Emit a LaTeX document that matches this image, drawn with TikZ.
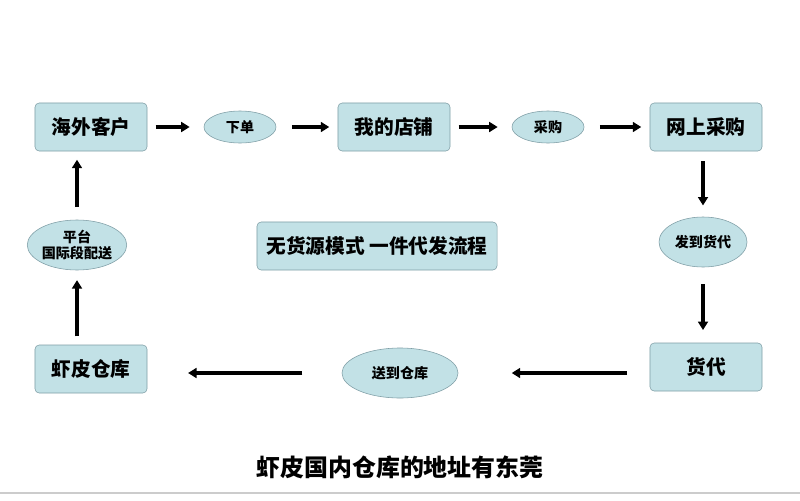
\documentclass[tikz,border=0pt]{standalone}
\usepackage{fontspec}
\setmainfont{Noto Sans CJK SC}
\usetikzlibrary{shapes.geometric,arrows.meta}
\definecolor{boxfill}{HTML}{C2E1E6}
\definecolor{boxline}{HTML}{7F9EA6}
\tikzset{
  stepbox/.style={draw=boxline,fill=boxfill,rounded corners=3pt,minimum width=2.8cm,minimum height=1.2cm,font=\bfseries\fontsize{14}{16}\selectfont},
  oval/.style={draw=boxline,fill=boxfill,ellipse,inner sep=0pt,font=\bfseries\fontsize{10}{12}\selectfont,align=center},
  flow/.style={line width=2.2pt,-{Triangle[length=6pt,width=7pt]}}
}
\begin{document}
\begin{tikzpicture}[x=0.025cm,y=-0.025cm]
  \useasboundingbox[fill=white] (0,0) rectangle (800,500);
  \node[stepbox] (kehu) at (91,127) {海外客户};
  \node[stepbox] (dianpu) at (394,127) {我的店铺};
  \node[stepbox] (caigou) at (706,127) {网上采购};
  \node[stepbox] (huodai) at (706,367) {货代};
  \node[stepbox] (cangku) at (91,369) {虾皮仓库};
  \node[oval,minimum width=1.8cm,minimum height=0.8cm] (xiadan) at (240,127) {下单};
  \node[oval,minimum width=1.8cm,minimum height=0.8cm] (cg) at (548,127) {采购};
  \node[oval,minimum width=2.2cm,minimum height=1.25cm] (fadao) at (703,242) {发到货代};
  \node[oval,minimum width=2.9cm,minimum height=1.25cm] (songdao) at (400,373) {送到仓库};
  \node[oval,minimum width=2.2cm,minimum height=1.25cm] (peisong) at (77,245) {平台\\国际段配送};
  \node[stepbox,minimum width=6cm] (title) at (377,246) {无货源模式\ 一件代发流程};
  \node[font=\bfseries\fontsize{17}{19}\selectfont] (caption) at (400,467) {虾皮国内仓库的地址有东莞};
  \draw[gray!40,line width=1pt] (0,493) -- (800,493);
  % flow
  \draw[flow,shorten <=6pt,shorten >=10pt] (kehu) -- (xiadan);
  \draw[flow,shorten <=11pt,shorten >=6pt] (xiadan) -- (dianpu);
  \draw[flow,shorten <=6pt,shorten >=10pt] (dianpu) -- (cg);
  \draw[flow,shorten <=11pt,shorten >=6pt] (cg) -- (caigou);
  \draw[flow,shorten <=7pt,shorten >=8pt] (caigou.south -| fadao) -- (fadao);
  \draw[flow,shorten <=12pt,shorten >=9pt] (fadao) -- (fadao |- huodai.north);
  \draw[flow,shorten <=16pt,shorten >=38pt] (huodai.west |- songdao) -- (songdao);
  \draw[flow,shorten <=28pt,shorten >=29pt] (songdao) -- (cangku.east |- songdao);
  \draw[flow,shorten <=6pt,shorten >=7pt] (cangku.north -| peisong) -- (peisong);
  \draw[flow,shorten <=9pt,shorten >=6pt] (peisong) -- (peisong |- kehu.south);
\end{tikzpicture}
\end{document}
